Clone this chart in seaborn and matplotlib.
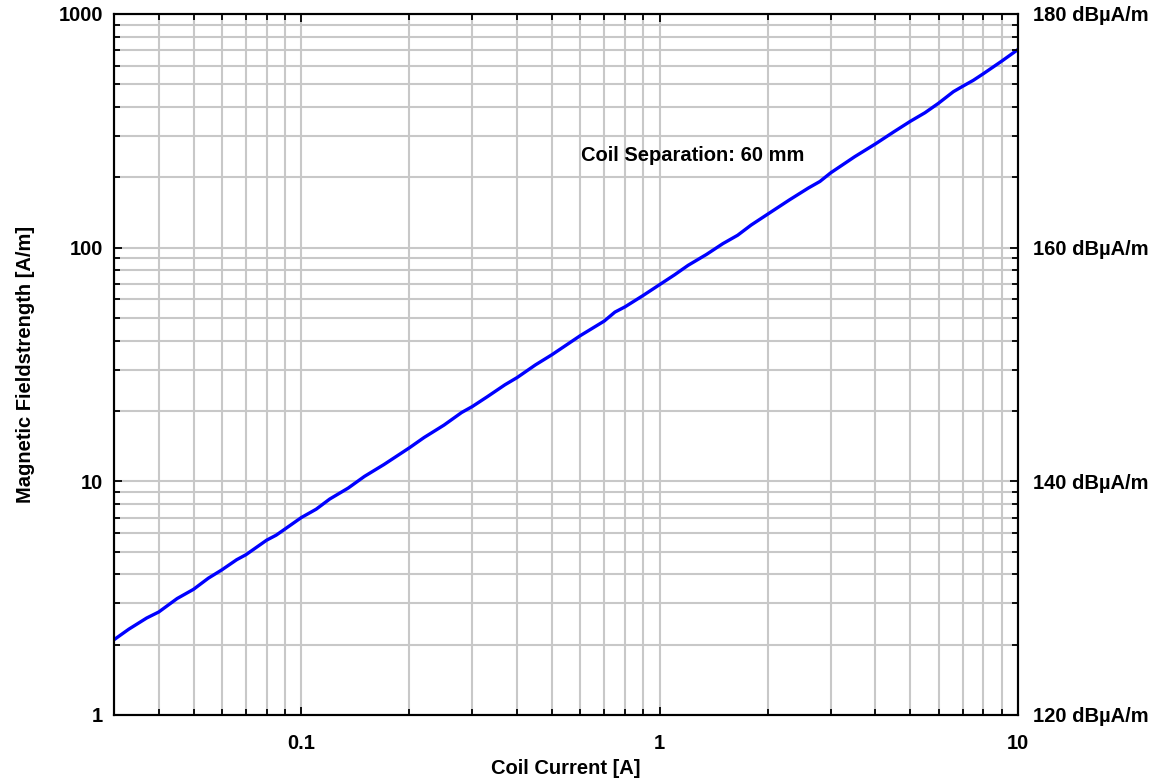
import numpy as np
import pandas as pd
import seaborn as sns
import matplotlib
matplotlib.use("Agg")
import matplotlib.pyplot as plt
from matplotlib.ticker import NullFormatter, LogLocator

# data
coil_current = [0.03, 0.033, 0.037, 0.04, 0.045, 0.05, 0.055, 0.06, 0.066, 0.07, 0.08, 0.085,
                0.09, 0.1, 0.11, 0.12, 0.135, 0.15, 0.17, 0.2, 0.22, 0.25, 0.28, 0.3, 0.33,
                0.37, 0.4, 0.45, 0.5, 0.6, 0.7, 0.75, 0.8, 0.9, 1.0, 1.1, 1.2, 1.35, 1.5,
                1.65, 1.8, 2.0, 2.3, 2.6, 2.8, 3.0, 3.5, 4.0, 4.5, 5.0, 5.5, 6.0, 6.6, 7.0,
                7.5, 8.0, 9.0, 10.0]
field_strength = [2.1, 2.33, 2.6, 2.76, 3.15, 3.45, 3.85, 4.18, 4.62, 4.85, 5.6, 5.88,
                  6.25, 7.0, 7.6, 8.4, 9.35, 10.5, 11.8, 13.9, 15.4, 17.4, 19.7, 20.9, 23.0,
                  25.9, 27.8, 31.5, 34.8, 42.0, 48.5, 53.0, 55.8, 62.5, 69.5, 76.5, 84.0, 93.5, 104.0,
                  113.0, 125.0, 139.0, 160.0, 180.0, 192.0, 209.0, 245.0, 278.0, 313.0, 347.0, 378.0,
                  415.0, 465.0, 490.0, 520.0, 555.0, 628.0, 705.0]
left_ticks = [1, 10, 100, 1000]
left_labels = ["1", "10", "100", "1000"]
right_labels = ["120 dBµA/m", "140 dBµA/m", "160 dBµA/m", "180 dBµA/m"]
x_ticks = [0.1, 1, 10]
x_labels = ["0.1", "1", "10"]

df = pd.DataFrame({"current": coil_current, "field": field_strength})

sns.set_style("ticks")
plt.rcParams['font.family'] = ['Liberation Sans', 'DejaVu Sans']
plt.rcParams['font.weight'] = 'bold'
plt.rcParams['text.color'] = 'black'
plt.rcParams['axes.labelcolor'] = 'black'

fig = plt.figure(figsize=(11.6, 7.82), dpi=100)
ax = fig.add_axes([0.0983, 0.0857, 0.7793, 0.8964])
sns.lineplot(data=df, x="current", y="field", ax=ax, color="#0000ff", linewidth=2.4)
ax.set_xscale("log")
ax.set_yscale("log")
ax.set_xlim(0.03, 10)
ax.set_ylim(1, 1000)

ax.xaxis.set_minor_locator(LogLocator(base=10, subs=np.arange(2, 10)))
ax.yaxis.set_minor_locator(LogLocator(base=10, subs=np.arange(2, 10)))
ax.xaxis.set_minor_formatter(NullFormatter())
ax.yaxis.set_minor_formatter(NullFormatter())
ax.set_xticks(x_ticks)
ax.set_xticklabels(x_labels)
ax.set_yticks(left_ticks)
ax.set_yticklabels(left_labels)

ax.grid(True, which="both", color="#c8c8c8", linewidth=1.5)
ax.set_axisbelow(True)
ax.tick_params(which="both", direction="in", top=True, right=False, colors="black",
               labelsize=14.5)
ax.tick_params(which="major", length=6, width=1.3, pad=8)
ax.tick_params(axis="x", which="major", pad=14)
ax.tick_params(which="minor", length=4, width=1.3)
for s in ax.spines.values():
    s.set_color("black")
    s.set_linewidth(1.5)

ax.set_xlabel("Coil Current [A]", fontsize=14.5, fontweight="bold", labelpad=4)
ax.set_ylabel("Magnetic Fieldstrength [A/m]", fontsize=14.5, fontweight="bold", labelpad=17)

ax2 = ax.twinx()
ax2.set_yscale("log")
ax2.set_ylim(1, 1000)
ax2.yaxis.set_minor_locator(LogLocator(base=10, subs=np.arange(2, 10)))
ax2.yaxis.set_minor_formatter(NullFormatter())
ax2.set_yticks(left_ticks)
ax2.set_yticklabels(right_labels)
ax2.tick_params(which="both", direction="in", colors="black", labelsize=14.5)
ax2.tick_params(which="major", length=6, width=1.3, pad=11)
ax2.tick_params(which="minor", length=4, width=1.3)
for s in ax2.spines.values():
    s.set_color("black")
    s.set_linewidth(1.5)

ax.text(0.605, 249, "Coil Separation: 60 mm", fontsize=14.5, fontweight="bold",
        ha="left", va="center")

fig.savefig("out.png", dpi=100)
